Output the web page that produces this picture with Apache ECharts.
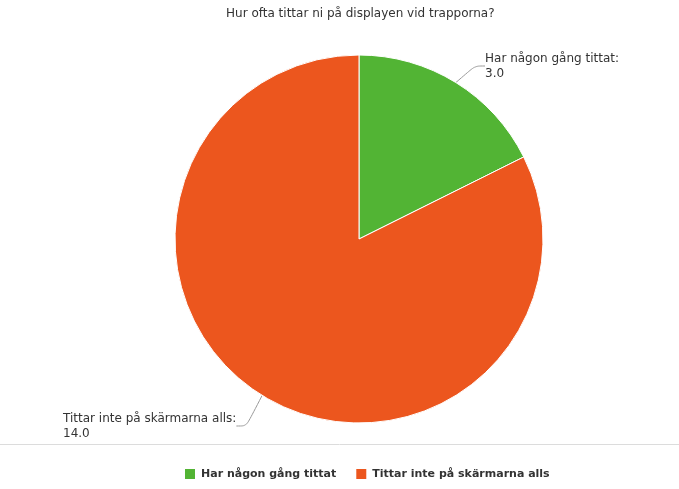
<!DOCTYPE html>
<html>
<head>
<meta charset="utf-8">
<script src="https://cdn.jsdelivr.net/npm/echarts@6/dist/echarts.min.js"></script>
<style>
  html, body { margin: 0; padding: 0; background: #fff; }
  #chart { width: 679px; height: 489px; }
</style>
</head>
<body>
<div id="chart"></div>
<script>
var titleText = 'Hur ofta tittar ni på displayen vid trapporna?';
var categories = ['Har någon gång tittat', 'Tittar inte på skärmarna alls'];
var values = [3, 14];
var colors = ['#52b434', '#ec561e'];

var chart = echarts.init(document.getElementById('chart'));
var fontFamily = 'DejaVu Sans, Verdana, sans-serif';

// label anchors, per slice
var labelPos = [
  { x: 485, y: 66, align: 'left' },
  { x: 63, y: 426, align: 'left' }
];

chart.setOption({
  animation: false,
  title: {
    text: titleText,
    left: 221,
    top: 3,
    textStyle: { fontFamily: fontFamily, fontSize: 12, fontWeight: 'normal', color: '#333' }
  },
  color: colors,
  legend: {
    bottom: 3,
    left: 178,
    icon: 'rect',
    itemWidth: 12,
    itemHeight: 12,
    itemGap: 18,
    textStyle: { fontFamily: fontFamily, fontSize: 11, fontWeight: 'bold', color: '#333' },
    data: categories
  },
  graphic: [{
    type: 'line',
    shape: { x1: 0, y1: 444.5, x2: 679, y2: 444.5 },
    style: { stroke: '#dcdcdc', lineWidth: 1 }
  }],
  series: [{
    type: 'pie',
    center: [359, 239],
    radius: 184,
    startAngle: 90,
    clockwise: true,
    itemStyle: { borderColor: '#fff', borderWidth: 1 },
    label: {
      show: true,
      formatter: function (p) { return p.name + ':\n' + p.value.toFixed(1); },
      fontFamily: fontFamily,
      fontSize: 12,
      lineHeight: 15,
      color: '#333'
    },
    labelLine: {
      show: true,
      smooth: 0.3,
      length: 20,
      length2: 10,
      lineStyle: { color: '#999', width: 1 }
    },
    labelLayout: function (params) {
      var p = labelPos[params.dataIndex];
      return { x: p.x, y: p.y, align: p.align, verticalAlign: 'middle' };
    },
    emphasis: { disabled: true },
    data: categories.map(function (c, i) { return { name: c, value: values[i] }; })
  }]
});
</script>
</body>
</html>
